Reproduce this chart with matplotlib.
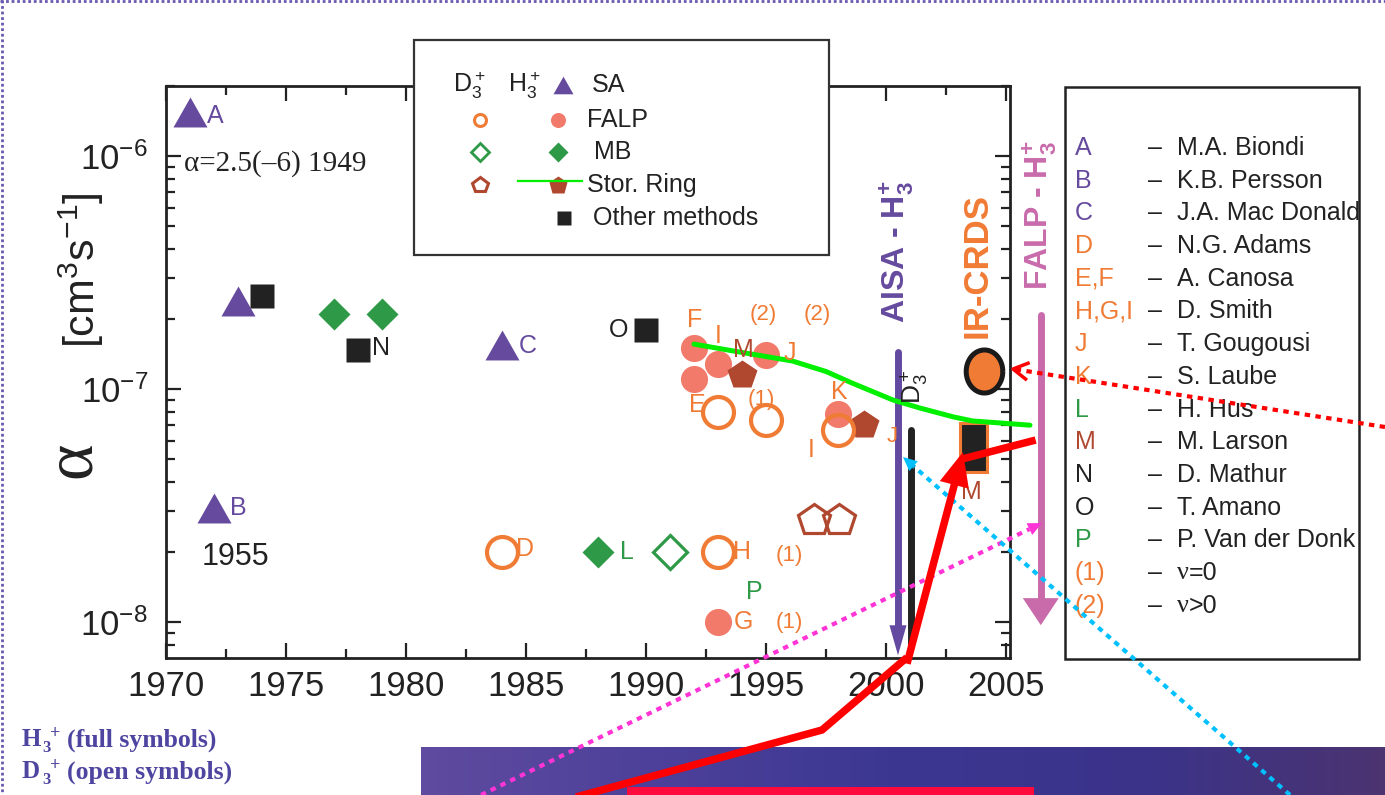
import numpy as np
import matplotlib
matplotlib.use('Agg')
import matplotlib.pyplot as plt
from matplotlib.patches import Rectangle, Polygon
from matplotlib.path import Path
from matplotlib.colors import LinearSegmentedColormap
from matplotlib.ticker import MultipleLocator, LogLocator, NullFormatter, FuncFormatter

plt.rcParams['font.family'] = ['Liberation Sans', 'DejaVu Sans']
plt.rcParams['mathtext.fontset'] = 'custom'
plt.rcParams['mathtext.rm'] = 'Liberation Sans'
plt.rcParams['mathtext.it'] = 'Liberation Sans:italic'
plt.rcParams['mathtext.bf'] = 'Liberation Sans:bold'
plt.rcParams['axes.unicode_minus'] = False

# ---------------- data ----------------
sa_h3_year = [1971.0, 1972.0, 1973.0, 1984.0]
sa_h3_alpha = [1.55e-6, 3.1e-8, 2.4e-7, 1.55e-7]
other_year = [1974.0, 1978.0, 1990.0]
other_alpha = [2.5e-7, 1.47e-7, 1.8e-7]
mb_h3_year = [1977.0, 1979.0, 1988.0]
mb_h3_alpha = [2.1e-7, 2.1e-7, 2.0e-8]
mb_d3_year = [1991.0]
mb_d3_alpha = [2.0e-8]
falp_h3_year = [1992.0, 1992.0, 1993.0, 1995.0, 1998.0, 1993.0]
falp_h3_alpha = [1.5e-7, 1.1e-7, 1.28e-7, 1.4e-7, 7.8e-8, 1.0e-8]
falp_d3_year = [1984.0, 1993.0, 1993.0, 1995.0, 1998.0]
falp_d3_alpha = [2.0e-8, 2.0e-8, 8.0e-8, 7.4e-8, 6.7e-8]
ring_h3_year = [1994.0, 1999.1]
ring_h3_alpha = [1.15e-7, 7.0e-8]
ring_d3_year = [1997.0, 1998.05]
ring_d3_alpha = [2.75e-8, 2.75e-8]
ring_curve_year = [1992.0, 1993.6, 1996.1, 1997.5, 1998.6, 2000.3, 2001.4, 2002.8, 2003.6, 2006.0]
ring_curve_alpha = [1.56e-7, 1.46e-7, 1.32e-7, 1.19e-7, 1.06e-7, 8.97e-8, 8.3e-8, 7.6e-8, 7.3e-8, 7.0e-8]
ircrds_year = [2004.1]
ircrds_alpha = [1.2e-7]
ircrds_d3_years = [2003.1, 2004.2]
ircrds_d3_range = [4.4e-8, 7.15e-8]
aisa_d3_year = 2001.05
aisa_d3_range = [8.0e-9, 6.7e-8]
aisa_h3_year = 2000.5
aisa_h3_range = [7.2e-9, 1.44e-7]
falp_arrow_year = 2006.45
falp_arrow_range = [9.7e-9, 2.08e-7]

# point labels: text, year, alpha, colour key, size
point_labels = [
    ('A', 1972.04, 1.485e-6, 'purple', 18), ('B', 1973.0, 3.08e-8, 'purple', 18),
    ('C', 1985.08, 1.53e-7, 'purple', 18), ('D', 1984.96, 2.06e-8, 'orange', 18),
    ('N', 1978.96, 1.5e-7, 'black', 18), ('O', 1988.875, 1.79e-7, 'black', 18),
    ('F', 1992.04, 1.98e-7, 'orange', 18), ('I', 1993.0, 1.69e-7, 'orange', 18),
    ('M', 1994.04, 1.47e-7, 'brown', 18), ('(2)', 1994.875, 2.1e-7, 'orange', 16),
    ('(2)', 1997.125, 2.1e-7, 'orange', 16), ('J', 1996.0, 1.43e-7, 'orange', 18),
    ('E', 1992.125, 8.54e-8, 'orange', 18), ('(1)', 1994.79, 9.06e-8, 'orange', 16),
    ('K', 1998.04, 9.7e-8, 'orange', 18), ('I', 1996.875, 5.47e-8, 'orange', 18),
    ('J', 2000.25, 6.29e-8, 'orange', 16), ('L', 1989.2, 2.0e-8, 'green', 18),
    ('H', 1994.0, 2.0e-8, 'orange', 18), ('(1)', 1995.96, 1.94e-8, 'orange', 16),
    ('P', 1994.5, 1.35e-8, 'green', 18), ('G', 1994.04, 1.0e-8, 'orange', 18),
    ('(1)', 1995.96, 1.0e-8, 'orange', 16), ('M', 2003.54, 3.61e-8, 'brown', 18),
]

ref_keys = ['A', 'B', 'C', 'D', 'E,F', 'H,G,I', 'J', 'K', 'L', 'M', 'N', 'O', 'P', '(1)', '(2)']
ref_names = ['M.A. Biondi', 'K.B. Persson', 'J.A. Mac Donald', 'N.G. Adams', 'A. Canosa',
             'D. Smith', 'T. Gougousi', 'S. Laube', 'H. Hus', 'M. Larson', 'D. Mathur',
             'T. Amano', 'P. Van der Donk', '=0', '>0']
ref_colors = ['purple', 'purple', 'purple', 'orange', 'orange', 'orange', 'orange', 'orange',
              'green', 'brown', 'black', 'black', 'green', 'orange', 'orange']

x_ticks = [1970, 1975, 1980, 1985, 1990, 1995, 2000, 2005]

# ---------------- styles ----------------
C = {'purple': '#654a9e', 'orange': '#f07b35', 'salmon': '#f27a6a', 'green': '#2e9946',
     'brown': '#b0472f', 'black': '#222222'}
lime = '#00f000'
pink = '#c96bab'

W, H = 1385, 795
fig = plt.figure(figsize=(W / 100, H / 100), dpi=100)
fig.patch.set_facecolor('white')

ax = fig.add_axes([166 / W, 1 - 658 / H, 844 / W, 572 / H], zorder=2)
ax.set_yscale('log')
ax.set_xlim(1970, 2005.167)
ax.set_ylim(7.01e-9, 2.0e-6)
ax.set_xticks(x_ticks)
ax.xaxis.set_minor_locator(MultipleLocator(2.5))
ax.yaxis.set_major_locator(LogLocator(base=10, numticks=10))
ax.yaxis.set_minor_locator(LogLocator(base=10, subs=np.arange(2, 10), numticks=20))
ax.yaxis.set_minor_formatter(NullFormatter())
ax.yaxis.set_major_formatter(FuncFormatter(
    lambda v, p: r'$\mathregular{10^{\mathregular{%d}}}$' % int(round(np.log10(v)))))
ax.tick_params(which='both', direction='in', top=True, right=True, width=1.6, labelsize=25,
               colors='#222222')
ax.tick_params(which='major', length=11)
ax.tick_params(which='minor', length=6.5)
ax.tick_params(axis='x', pad=9)
ax.tick_params(axis='y', pad=13)
for s in ax.spines.values():
    s.set_linewidth(2.0)
    s.set_color('#222222')

tri = [(-1, -0.88), (1, -0.88), (0, 0.88), (-1, -0.88)]
tri_marker = Path(tri)

ax.plot(sa_h3_year, sa_h3_alpha, ls='none', marker=tri_marker, ms=24.5, color=C['purple'], mec='none', zorder=5)
ax.plot(other_year, other_alpha, ls='none', marker='s', ms=17.3, color=C['black'], mec='none', zorder=5)
ax.plot(mb_h3_year, mb_h3_alpha, ls='none', marker='D', ms=16.8, color=C['green'], mec='none', zorder=5)
ax.plot(mb_d3_year, mb_d3_alpha, ls='none', marker='D', ms=17.0, mfc='none', mec=C['green'], mew=2.3, zorder=5)
ax.plot(falp_h3_year, falp_h3_alpha, ls='none', marker='o', ms=19.5, color=C['salmon'], mec='none', zorder=5)
ax.plot(falp_d3_year, falp_d3_alpha, ls='none', marker='o', ms=22.3, mfc='none', mec=C['orange'], mew=3.0, zorder=6)
ax.plot(ring_h3_year, ring_h3_alpha, ls='none', marker='p', ms=22, color=C['brown'], mec='none', zorder=5)
ax.plot(ring_d3_year, ring_d3_alpha, ls='none', marker='p', ms=23.5, mfc='none', mec=C['brown'], mew=2.3, zorder=5)

# IR-CRDS range box
ax.add_patch(Rectangle((ircrds_d3_years[0], ircrds_d3_range[0]),
                       ircrds_d3_years[1] - ircrds_d3_years[0],
                       ircrds_d3_range[1] - ircrds_d3_range[0],
                       fc=C['black'], ec=C['orange'], lw=2.2, zorder=4))

# IR-CRDS H3+ point (slightly elliptical marker)
th = np.linspace(0, 2 * np.pi, 60)
ell = Path(np.column_stack([0.85 * np.cos(th), np.sin(th)]))
ax.plot(ircrds_year, ircrds_alpha, ls='none', marker=ell, ms=31, mfc=C['orange'], mec='#1a1a1a',
        mew=3.6, zorder=6, clip_on=False)

for t, x, y, ck, fs in point_labels:
    ax.text(x, y, t, color=C[ck], fontsize=fs, ha='center', va='center', zorder=7, clip_on=False)

ax.text(1970.75, 9.33e-7, 'α=2.5(–6) 1949', family=['Liberation Serif', 'DejaVu Serif'],
        fontsize=21, ha='left', va='center', color='#222222', zorder=7)
ax.text(1972.875, 1.9e-8, '1955', fontsize=22, ha='center', va='center', color='#222222', zorder=7)

ax.text(2000.46, 3.9e-7, r'AISA - H$_\mathbf{3}^\mathbf{+}$', rotation=90, fontsize=23,
        fontweight='bold', color=C['purple'], ha='center', va='center', zorder=7)
ax.text(2003.8, 3.4e-7, 'IR-CRDS', rotation=90, fontsize=25, fontweight='bold',
        color=C['orange'], ha='center', va='center', zorder=7)
ax.text(2006.42, 5.6e-7, r'FALP - H$_\mathbf{3}^\mathbf{+}$', rotation=90, fontsize=23,
        fontweight='bold', color=pink, ha='center', va='center', zorder=7, clip_on=False)
ax.text(2001.2, 1.02e-7, r'D$_3^+$', rotation=90, fontsize=19, color='#222222',
        ha='center', va='center', zorder=7)

# ---------------- overlay in pixel coords ----------------
ov = fig.add_axes([0, 0, 1, 1], zorder=5)
ov.set_xlim(0, W)
ov.set_ylim(H, 0)
ov.set_autoscale_on(False)
ov.axis('off')
ov.patch.set_alpha(0)


def d2p(x, y):
    return ov.transData.inverted().transform(ax.transData.transform((x, y)))


def p2d(px, py):
    return ax.transData.inverted().transform(ov.transData.transform((px, py)))


def head_pts(tip, tail, length, width):
    tip = np.asarray(tip, float)
    tail = np.asarray(tail, float)
    d = tip - tail
    d = d / np.hypot(*d)
    n = np.array([-d[1], d[0]])
    base = tip - d * length
    return np.array([tip, base + n * width / 2, base - n * width / 2]), base


def data_vertical_arrow(x, y_lo, y_hi, color, lw, hl, hw, zorder):
    tip = d2p(x, y_lo)
    top = d2p(x, y_hi)
    pts, base = head_pts(tip, top, hl, hw)
    b = p2d(*(base + (top - tip) / np.hypot(*(top - tip)) * (-3)))
    ax.plot([x, x], [y_hi, b[1]], color=color, lw=lw, solid_capstyle='round', zorder=zorder, clip_on=False)
    dpts = np.array([p2d(*p) for p in pts])
    ax.add_patch(Polygon(dpts, closed=True, fc=color, ec='none', zorder=zorder, clip_on=False))


# black D3+ line
ax.plot([aisa_d3_year, aisa_d3_year], aisa_d3_range, color=C['black'], lw=5, solid_capstyle='round', zorder=3)
# AISA arrow and FALP arrow
data_vertical_arrow(aisa_h3_year, aisa_h3_range[0], aisa_h3_range[1], '#634aa0', 5.0, 30, 17, 3)
data_vertical_arrow(falp_arrow_year, falp_arrow_range[0], falp_arrow_range[1], pink, 5.0, 27, 36, 3)

# green storage ring curve
ax.plot(ring_curve_year, ring_curve_alpha, color=lime, lw=3.6, solid_capstyle='round', zorder=6, clip_on=False)

# bottom gradient banner
grad = np.linspace(0, 1, 256).reshape(1, -1)
cmap = LinearSegmentedColormap.from_list('band', ['#5f4b9f', '#4c409a', '#3b3791', '#3b338a', '#4b3470'])
ov.imshow(grad, extent=[421, W, H, 747], aspect='auto', cmap=cmap, zorder=1, interpolation='bilinear')
ov.add_patch(Rectangle((627, 787), 407, 9, color='#ff0a3c', lw=0, zorder=2))

# slide borders
ov.plot([2, 2], [0, H], color='#6a58b0', lw=2, ls=(0, (1, 1)), zorder=1)
ov.plot([0, W], [1, 1], color='#6a58b0', lw=2, ls=(0, (1, 1)), zorder=1)

# bottom-left captions
cap_col = '#4e45a0'
for yy, big in [(740, 'H'), (772, 'D')]:
    ov.text(22, yy, big, family=['Liberation Serif'], fontweight='bold', fontsize=18,
            color=cap_col, ha='left', va='center', zorder=3)
    ov.text(42, yy + 8, '3', family=['Liberation Serif'], fontweight='bold', fontsize=12,
            color=cap_col, ha='left', va='center', zorder=3)
    ov.text(50, yy - 6, '+', family=['Liberation Serif'], fontweight='bold', fontsize=13,
            color=cap_col, ha='left', va='center', zorder=3)
ov.text(67, 740, '(full symbols)', family=['Liberation Serif'], fontweight='bold', fontsize=18.5,
        color=cap_col, ha='left', va='center', zorder=3)
ov.text(67, 772, '(open symbols)', family=['Liberation Serif'], fontweight='bold', fontsize=18.5,
        color=cap_col, ha='left', va='center', zorder=3)

# axis label
ov.text(73, 460, 'α', family=['Liberation Serif'], fontsize=50, rotation=90, ha='center',
        va='center', color='#222222')
ov.text(81, 270, r'[cm$^3$s$^{\mathregular{-1}}$]', fontsize=31, rotation=90, ha='center', va='center',
        color='#222222')

# top legend box
ov.add_patch(Rectangle((414, 40), 415, 215, fc='white', ec='#333333', lw=1.6, zorder=3))
ov.text(453, 85, r'D$_3^+$', fontsize=18, ha='left', va='center', zorder=4, color='#222222')
ov.text(508, 85, r'H$_3^+$', fontsize=18, ha='left', va='center', zorder=4, color='#222222')
ov.plot(563, 85, marker=tri_marker, ms=14.4, color=C['purple'], mec='none', zorder=4)
ov.text(592, 85, 'SA', fontsize=18, ha='left', va='center', zorder=4, color='#222222')
ov.plot(480, 120, marker='o', ms=8.6, mfc='none', mec=C['orange'], mew=2.2, zorder=4)
ov.plot(558, 120, marker='o', ms=10.8, color=C['salmon'], mec='none', zorder=4)
ov.text(587, 120, 'FALP', fontsize=18, ha='left', va='center', zorder=4, color='#222222')
ov.plot(480, 152, marker='D', ms=8.7, mfc='none', mec=C['green'], mew=2.0, zorder=4)
ov.plot(558, 152, marker='D', ms=10.2, color=C['green'], mec='none', zorder=4)
ov.text(594, 152, 'MB', fontsize=18, ha='left', va='center', zorder=4, color='#222222')
ov.plot(480, 185, marker='p', ms=11.4, mfc='none', mec=C['brown'], mew=2.2, zorder=4)
ov.plot(558, 185, marker='p', ms=13.6, color=C['brown'], mec='none', zorder=4)
ov.plot([518, 582], [181, 181], color=lime, lw=1.6, zorder=5)
ov.text(587, 185, 'Stor. Ring', fontsize=18, ha='left', va='center', zorder=4, color='#222222')
ov.plot(564, 218, marker='s', ms=9.4, color=C['black'], mec='none', zorder=4)
ov.text(593, 218, 'Other methods', fontsize=18, ha='left', va='center', zorder=4, color='#222222')

# right reference box
ov.add_patch(Rectangle((1065, 87), 294, 572, fc='white', ec='#222222', lw=1.8, zorder=3))
for i, (k, nme, ck) in enumerate(zip(ref_keys, ref_names, ref_colors)):
    yy = 148 + i * 32.7
    ov.text(1075, yy, k, fontsize=18, color=C[ck], ha='left', va='center', zorder=4)
    ov.text(1155, yy, '–', fontsize=18, color='#222222', ha='center', va='center', zorder=4)
    if nme.startswith('=') or nme.startswith('>'):
        ov.text(1177, yy, 'ν', family=['Liberation Serif'], fontsize=19, color='#222222',
                ha='left', va='center', zorder=4)
        ov.text(1189, yy, nme, fontsize=18, color='#222222', ha='left', va='center', zorder=4)
    else:
        ov.text(1177, yy, nme, fontsize=18, color='#222222', ha='left', va='center', zorder=4)

# decorative pointer lines
red = '#ff0000'
ov.plot([565, 822, 904], [800, 730, 660], color=red, lw=5.4, solid_joinstyle='miter', zorder=8)
pts, base = head_pts((963, 452), (908, 660), 34, 30)
ov.plot([908, base[0]], [660, base[1]], color=red, lw=5.4, zorder=8)
ov.add_patch(Polygon(pts, closed=True, fc=red, ec='none', zorder=8))
ov.plot([966, 1032], [458, 441], color=red, lw=5.4, zorder=8)

mag = '#ff33d6'
pts, base = head_pts((1042, 523), (481, 795), 14, 13)
ov.plot([481, base[0]], [795, base[1]], color=mag, lw=3.0, ls=(0, (1.3, 1.3)), zorder=7)
ov.add_patch(Polygon(pts, closed=True, fc=mag, ec='none', zorder=7))

cyan = '#00c0ff'
pts, base = head_pts((903, 457), (1290, 795), 14, 13)
ov.plot([1290, base[0]], [795, base[1]], color=cyan, lw=3.0, ls=(0, (1.3, 1.3)), zorder=7)
ov.add_patch(Polygon(pts, closed=True, fc=cyan, ec='none', zorder=7))

tip = np.array([1013, 369.0])
pts, base = head_pts(tip, (1385, 427), 14, 16)
ov.plot([1385, tip[0] + 2], [427, tip[1] + 0.3], color=red, lw=3.0, ls=(0, (1.3, 1.3)), zorder=7)
ov.plot([pts[1][0], tip[0], pts[2][0]], [pts[1][1], tip[1], pts[2][1]], color=red, lw=2.5, zorder=7)

fig.savefig('out.png', dpi=100, facecolor='white')
